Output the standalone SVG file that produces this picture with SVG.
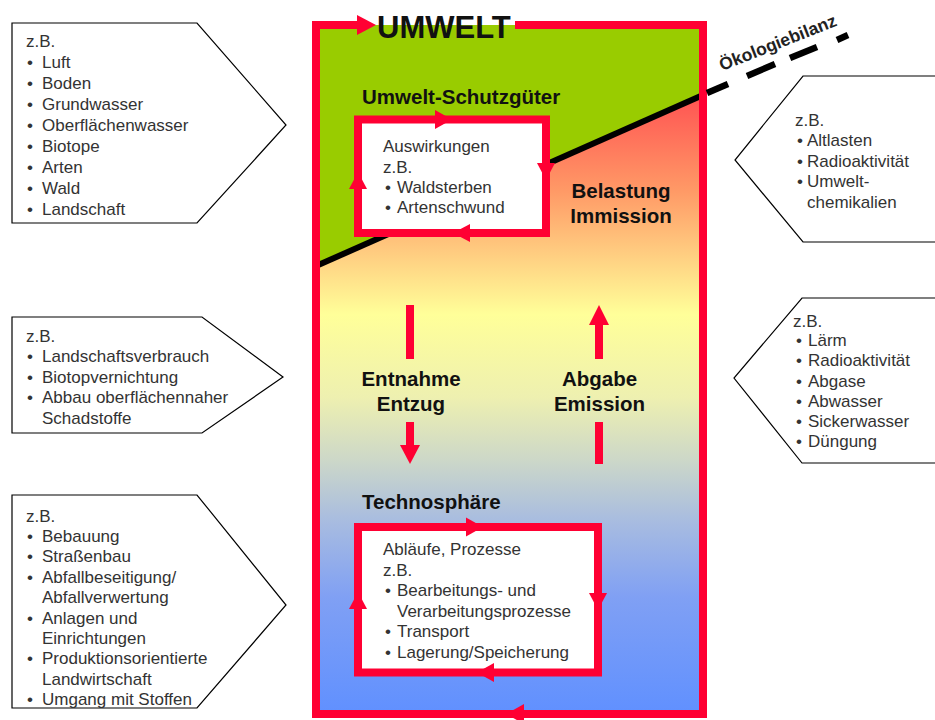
<svg xmlns="http://www.w3.org/2000/svg" width="935" height="720" viewBox="0 0 935 720">
<defs>
<style>
.t{font-family:"Liberation Sans",Arial,sans-serif;font-size:17px;fill:#333}
.b{font-family:"Liberation Sans",Arial,sans-serif;font-size:20.5px;font-weight:bold;fill:#111}
.box{fill:#fff;stroke:#000;stroke-width:1.2}
.red{fill:none;stroke:#ff0033;stroke-width:8}
.rbox{fill:#fff;stroke:#ff0033;stroke-width:8}
.ah{fill:#ff0033}
</style>
<linearGradient id="bg" x1="0" y1="0" x2="0" y2="1">
<stop offset="0" stop-color="#ff3030"/>
<stop offset="0.12" stop-color="#ff5c55"/>
<stop offset="0.24" stop-color="#ff9966"/>
<stop offset="0.33" stop-color="#ffcc80"/>
<stop offset="0.42" stop-color="#ffff99"/>
<stop offset="0.54" stop-color="#eef0b0"/>
<stop offset="0.63" stop-color="#cdd8c8"/>
<stop offset="0.72" stop-color="#a8bce0"/>
<stop offset="0.83" stop-color="#80a0f4"/>
<stop offset="1" stop-color="#6090ff"/>
</linearGradient>
</defs>
<rect width="935" height="720" fill="#fff"/>

<g id="umwelt">
<rect x="316" y="25" width="387" height="689" fill="url(#bg)"/>
<polygon points="316,25 703,25 703,95 316,266" fill="#99cc00"/>
<line x1="316" y1="266" x2="703" y2="95" stroke="#000" stroke-width="6"/>
<path class="red" d="M358,25 H316 V714 H703 V25 H515" stroke-width="9"/>
<polygon class="ah" points="357,15 376,25 357,35"/>
<polygon class="ah" points="506,714 524,704 524,724"/>
<text x="377" y="37.5" font-family="Liberation Sans,Arial,sans-serif" font-size="31" font-weight="bold" fill="#111">UMWELT</text>
</g>

<g id="oekologiebilanz">
<g stroke="#000" stroke-width="6.5">
<line x1="707" y1="93" x2="728" y2="84"/>
<line x1="747" y1="76" x2="775" y2="64"/>
<line x1="790" y1="58" x2="817" y2="47"/>
<line x1="837" y1="40" x2="848" y2="35"/>
</g>
<text transform="translate(722,71) rotate(-21.5)" font-family="Liberation Sans,Arial,sans-serif" font-size="17.5" font-weight="bold" fill="#222">Ökologiebilanz</text>
</g>

<g id="labels">
<text class="b" x="362" y="104">Umwelt-Schutzgüter</text>
<text class="b" x="621" y="198" text-anchor="middle">Belastung</text>
<text class="b" x="621" y="223" text-anchor="middle">Immission</text>
<text class="b" x="411" y="386" text-anchor="middle">Entnahme</text>
<text class="b" x="411" y="411" text-anchor="middle">Entzug</text>
<text class="b" x="599.5" y="386" text-anchor="middle">Abgabe</text>
<text class="b" x="599.5" y="411" text-anchor="middle">Emission</text>
<text class="b" x="362" y="509">Technosphäre</text>
</g>

<g id="connectors">
<line class="red" x1="410" y1="305" x2="410" y2="359"/>
<line class="red" x1="410" y1="422" x2="410" y2="447"/>
<polygon class="ah" points="400,445 420,445 410,464"/>
<polygon class="ah" points="589,325 609,325 599,305"/>
<line class="red" x1="599" y1="324" x2="599" y2="359"/>
<line class="red" x1="599" y1="422" x2="599" y2="464"/>
</g>

<g id="schutzgueter">
<rect class="rbox" x="358" y="119.5" width="188" height="113.5"/>
<polygon class="ah" points="435,110 452,119.5 435,129"/>
<polygon class="ah" points="537,163 555,163 546,180"/>
<polygon class="ah" points="470,224 470,242 453,233"/>
<polygon class="ah" points="349,189 367,189 358,172"/>
<text class="t" x="383" y="152">Auswirkungen</text>
<text class="t" x="383" y="172.5">z.B.</text>
<text class="t" x="385" y="193">•</text><text class="t" x="397" y="193">Waldsterben</text>
<text class="t" x="385" y="213">•</text><text class="t" x="397" y="213">Artenschwund</text>
</g>

<g id="technosphaere">
<rect class="rbox" x="358" y="527" width="240" height="145.5"/>
<polygon class="ah" points="466,517.5 483,527 466,536.5"/>
<polygon class="ah" points="589,593 607,593 598,610"/>
<polygon class="ah" points="494,663 494,682 477,672.5"/>
<polygon class="ah" points="349,609 367,609 358,592"/>
<text class="t" x="383" y="555">Abläufe, Prozesse</text>
<text class="t" x="383" y="575.5">z.B.</text>
<text class="t" x="385" y="596">•</text><text class="t" x="397" y="596">Bearbeitungs- und</text>
<text class="t" x="397" y="616.5">Verarbeitungsprozesse</text>
<text class="t" x="385" y="637">•</text><text class="t" x="397" y="637">Transport</text>
<text class="t" x="385" y="657.5">•</text><text class="t" x="397" y="657.5">Lagerung/Speicherung</text>
</g>

<g id="box-schutzgueter-list">
<polygon class="box" points="12,23 197,23 286,125 197,223 12,223"/>
<text class="t" x="26" y="46.5">z.B.</text>
<g class="t">
<text x="27" y="67.5">•</text><text x="42" y="67.5">Luft</text>
<text x="27" y="88.5">•</text><text x="42" y="88.5">Boden</text>
<text x="27" y="109.5">•</text><text x="42" y="109.5">Grundwasser</text>
<text x="27" y="130.5">•</text><text x="42" y="130.5">Oberflächenwasser</text>
<text x="27" y="151.5">•</text><text x="42" y="151.5">Biotope</text>
<text x="27" y="172.5">•</text><text x="42" y="172.5">Arten</text>
<text x="27" y="193.5">•</text><text x="42" y="193.5">Wald</text>
<text x="27" y="214.5">•</text><text x="42" y="214.5">Landschaft</text>
</g>
</g>

<g id="box-entnahme-list">
<polygon class="box" points="12,317 202,317 283,377 202,433 12,433"/>
<g class="t">
<text x="26" y="341.5">z.B.</text>
<text x="27" y="362">•</text><text x="42" y="362">Landschaftsverbrauch</text>
<text x="27" y="382.5">•</text><text x="42" y="382.5">Biotopvernichtung</text>
<text x="27" y="403">•</text><text x="42" y="403">Abbau oberflächennaher</text>
<text x="42" y="423.5">Schadstoffe</text>
</g>
</g>

<g id="box-techno-list">
<polygon class="box" points="12,495 197,495 286,605 197,708 12,708"/>
<g class="t">
<text x="26" y="521.5">z.B.</text>
<text x="27" y="541.9">•</text><text x="42" y="541.9">Bebauung</text>
<text x="27" y="562.3">•</text><text x="42" y="562.3">Straßenbau</text>
<text x="27" y="582.7">•</text><text x="42" y="582.7">Abfallbeseitigung/</text>
<text x="42" y="603.1">Abfallverwertung</text>
<text x="27" y="623.5">•</text><text x="42" y="623.5">Anlagen und</text>
<text x="42" y="643.9">Einrichtungen</text>
<text x="27" y="664.3">•</text><text x="42" y="664.3">Produktionsorientierte</text>
<text x="42" y="684.7">Landwirtschaft</text>
<text x="27" y="705.1">•</text><text x="42" y="705.1">Umgang mit Stoffen</text>
</g>
</g>

<g id="box-belastung-list">
<polygon class="box" points="945,76 803,76 735,160 803,242 945,242"/>
<g class="t">
<text x="795" y="126">z.B.</text>
<text x="797" y="146">•</text><text x="807" y="146">Altlasten</text>
<text x="797" y="166.5">•</text><text x="807" y="166.5">Radioaktivität</text>
<text x="797" y="187">•</text><text x="807" y="187">Umwelt-</text>
<text x="807" y="207.5">chemikalien</text>
</g>
</g>

<g id="box-abgabe-list">
<polygon class="box" points="945,298 802,298 734,378 802,463 945,463"/>
<g class="t">
<text x="793" y="326.5">z.B.</text>
<text x="796" y="346">•</text><text x="808" y="346">Lärm</text>
<text x="796" y="366">•</text><text x="808" y="366">Radioaktivität</text>
<text x="796" y="386.5">•</text><text x="808" y="386.5">Abgase</text>
<text x="796" y="406.5">•</text><text x="808" y="406.5">Abwasser</text>
<text x="796" y="427">•</text><text x="808" y="427">Sickerwasser</text>
<text x="796" y="447">•</text><text x="808" y="447">Düngung</text>
</g>
</g>
</svg>
